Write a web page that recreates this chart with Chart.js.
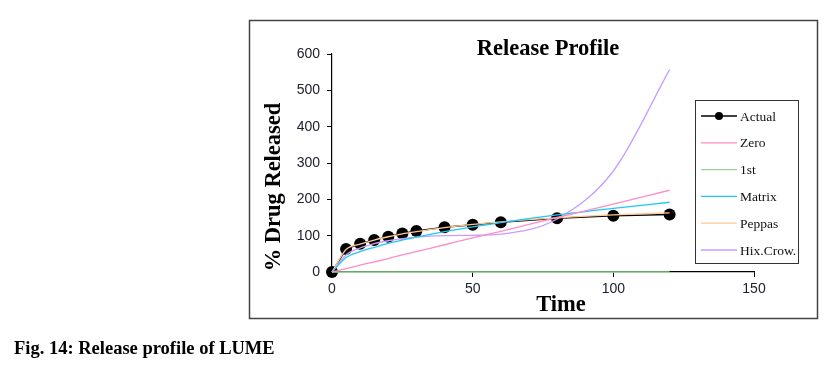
<!DOCTYPE html>
<html lang="en">
<head>
  <meta charset="UTF-8" />
  <title>Release profile of LUME</title>
  <script src="https://cdn.jsdelivr.net/npm/chart.js"></script>
  <style>
    body { margin: 0; background: #fff; }
    #wrap { position: relative; width: 833px; height: 365px; }
    #caption {
      position: absolute; left: 14px; top: 338px;
      font: bold 18.5px "Liberation Serif", "Times New Roman", serif; color: #000;
    }
  </style>
</head>
<body>
  <div id="wrap">
    <canvas id="releaseChart" width="833" height="365"></canvas>
    <div id="caption">Fig. 14: Release profile of LUME</div>
  </div>

  <script>
    // sampling times (x)
    const times = [0, 5, 10, 15, 20, 25, 30, 40, 50, 60, 80, 100, 120];

    // series
    const actual  = [0, 63, 78, 88, 97, 106, 113, 123, 130, 137, 148, 155, 158];
    const zero    = [0, 9, 19, 28, 37, 47, 56, 75, 94, 112, 150, 187, 225];
    const first   = [0, 0, 0, 0, 0, 0, 0, 0, 0, 0, 0, 0, 0];
    const matrix  = [0, 40, 56, 68, 79, 88, 96, 111, 124, 136, 157, 175, 192];
    const peppas  = [0, 62, 77, 88, 97, 105, 111, 122, 131, 138, 149, 157, 163];
    const hixCrow = [0, 47, 66, 78, 86, 92, 96, 100, 101, 104, 146, 278, 557];

    const xTicks = [0, 50, 100, 150];
    const yTicks = [0, 100, 200, 300, 400, 500, 600];

    const pts = arr => arr.map((v, i) => ({ x: times[i], y: v }));

    const serif = '"Liberation Serif", "Times New Roman", serif';

    function modelLine(label, data, color) {
      return {
        label: label,
        data: pts(data),
        borderColor: color,
        backgroundColor: color,
        borderWidth: 1.3,
        pointRadius: 0,
        cubicInterpolationMode: 'monotone',
        clip: false,
        order: 0
      };
    }

    // frame, title, axis titles and legend box
    const decorations = {
      id: 'decorations',
      afterDraw(chart) {
        const c = chart.ctx;
        c.save();
        c.strokeStyle = '#444';
        c.lineWidth = 1.5;
        c.strokeRect(249.5, 20.5, 568, 298);

        c.fillStyle = '#000';
        c.textAlign = 'center';
        c.textBaseline = 'alphabetic';
        c.font = 'bold 22.5px ' + serif;
        c.fillText('Release Profile', 548, 55);
        c.fillText('Time', 561, 311);

        c.save();
        c.translate(280, 187);
        c.rotate(-Math.PI / 2);
        c.fillText('% Drug Released', 0, 0);
        c.restore();

        // legend
        c.fillStyle = '#fff';
        c.fillRect(695, 100, 104, 164);
        c.strokeStyle = '#333';
        c.lineWidth = 1;
        c.strokeRect(695.5, 100.5, 103, 163);
        c.font = '13.5px ' + serif;
        c.textAlign = 'left';
        c.textBaseline = 'middle';
        chart.data.datasets.forEach((ds, i) => {
          const y = 116 + i * 26.8;
          c.strokeStyle = ds.borderColor;
          c.lineWidth = ds.borderWidth;
          c.beginPath();
          c.moveTo(701, y);
          c.lineTo(737, y);
          c.stroke();
          if (ds.pointRadius > 0) {
            c.fillStyle = ds.backgroundColor;
            c.beginPath();
            c.arc(719, y, 4, 0, Math.PI * 2);
            c.fill();
          }
          c.fillStyle = '#111';
          c.fillText(ds.label, 740, y + 1);
        });
        c.restore();
      }
    };

    new Chart(document.getElementById('releaseChart'), {
      type: 'line',
      data: {
        datasets: [
          {
            label: 'Actual',
            data: pts(actual),
            borderColor: '#000',
            backgroundColor: '#000',
            borderWidth: 1.5,
            pointRadius: 6,
            pointBorderWidth: 0,
            tension: 0,
            clip: false,
            order: 1
          },
          modelLine('Zero', zero, '#ff8cc6'),
          modelLine('1st', first, '#95d895'),
          modelLine('Matrix', matrix, '#1ec8f5'),
          modelLine('Peppas', peppas, '#ffc894'),
          modelLine('Hix.Crow.', hixCrow, '#c99cff')
        ]
      },
      options: {
        responsive: false,
        animation: false,
        events: [],
        layout: { padding: { left: 250, top: 54, right: 79, bottom: 63 } },
        plugins: {
          legend: { display: false },
          title: { display: false },
          tooltip: { enabled: false }
        },
        scales: {
          x: {
            type: 'linear',
            min: 0,
            max: 150,
            afterBuildTicks: s => { s.ticks = xTicks.map(v => ({ value: v })); },
            afterFit: s => { s.height = 30; },
            border: { color: '#000', width: 1.2 },
            grid: { drawOnChartArea: false, tickLength: 5, color: '#000' },
            ticks: { padding: 4, color: '#202030', font: { family: 'Arial, "Liberation Sans"', size: 14 } }
          },
          y: {
            min: 0,
            max: 600,
            afterBuildTicks: s => { s.ticks = yTicks.map(v => ({ value: v })); },
            afterFit: s => { s.width = 82; },
            border: { color: '#000', width: 1.2 },
            grid: { drawOnChartArea: false, tickLength: 5, color: '#000' },
            ticks: { padding: 7, color: '#202030', font: { family: 'Arial, "Liberation Sans"', size: 14 } }
          }
        }
      },
      plugins: [decorations]
    });
  </script>
</body>
</html>
